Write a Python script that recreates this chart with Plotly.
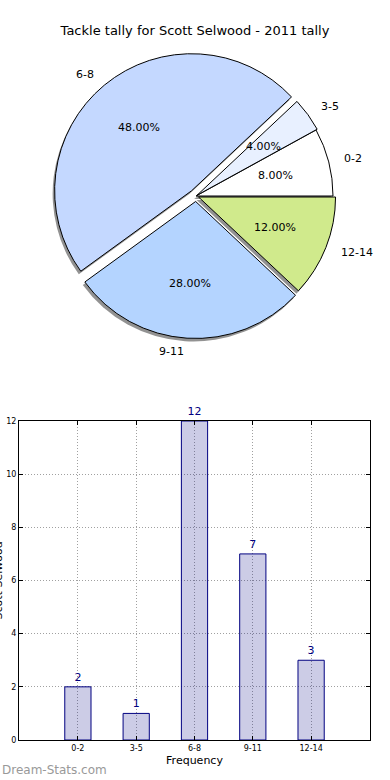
import math
import plotly.graph_objects as go

categories = ["0-2", "3-5", "6-8", "9-11", "12-14"]
counts = [2, 1, 12, 7, 3]
pie_colors = ["#ffffff", "#e8f0ff", "#c4d8ff", "#b4d4ff", "#d0ea8c"]
pulls = [0.0, 0.01, 0.05, 0.04, 0.02]
y_ticks = [0, 2, 4, 6, 8, 10, 12]

W, H = 390, 780
FONT = "DejaVu Sans"

def px_x(x):
    return x / W

def px_y(y):
    return 1 - y / H

total = sum(counts)
maxp = max(pulls)
cx, cy, r = 196, 196, 137
half = r * (1 + maxp)
dom_x = [px_x(cx - half), px_x(cx + half)]
dom_y = [px_y(cy + half), px_y(cy - half)]
sdx, sdy = -2, 3
shadow_x = [px_x(cx - half + sdx), px_x(cx + half + sdx)]
shadow_y = [px_y(cy + half + sdy), px_y(cy - half + sdy)]
# text overlay axes: larger box around the same centre, same px-per-unit scale
ext = 1.4
thalf = r * ext
tdom_x = [px_x(cx - thalf), px_x(cx + thalf)]
tdom_y = [px_y(cy + thalf), px_y(cy - thalf)]
# matplotlib-like start: first slice begins at 3 o'clock going counterclockwise
rotation = 90 - 360 * counts[0] / total

fig = go.Figure()

pie_common = dict(labels=categories, values=counts, sort=False,
                  direction="counterclockwise", rotation=rotation, pull=pulls,
                  showlegend=False)
# shadow
fig.add_trace(go.Pie(
    domain=dict(x=shadow_x, y=shadow_y),
    marker=dict(colors=["rgba(100,100,100,0.7)"] * 5, line=dict(width=0)),
    textinfo="none", hoverinfo="skip", **pie_common,
))
# main pie
fig.add_trace(go.Pie(
    domain=dict(x=dom_x, y=dom_y),
    marker=dict(colors=pie_colors, line=dict(color="#000000", width=1)),
    textinfo="none", **pie_common,
))

# percentage and category texts placed like matplotlib (0.6r and 1.1r)
annotations = []
cum = 0
for cat, v, p in zip(categories, counts, pulls):
    mid = math.radians((cum + v / 2) / total * 360)
    cum += v
    c, s = math.cos(mid), math.sin(mid)
    annotations.append(dict(
        x=(p + 0.6) * c, y=(p + 0.6) * s, xref="x2", yref="y2",
        text=f"{100 * v / total:.2f}%", showarrow=False,
        xanchor="center", yanchor="middle",
        font=dict(family=FONT, size=11, color="#000000")))
    annotations.append(dict(
        x=(p + 1.1) * c, y=(p + 1.1) * s, xref="x2", yref="y2",
        text=cat, showarrow=False,
        xanchor="left" if c > 0 else "right", yanchor="middle",
        font=dict(family=FONT, size=11, color="#000000")))

# y-axis title, mostly cut off at the left edge as in the reference
annotations.append(dict(text="Scott Selwood", x=px_x(-2), y=px_y(580.5),
                        xref="paper", yref="paper", textangle=-90,
                        xanchor="center", yanchor="middle", showarrow=False,
                        font=dict(family=FONT, size=11, color="#000000")))
annotations.append(dict(text="Dream-Stats.com", x=0, y=px_y(770), xref="paper", yref="paper",
                        xanchor="left", yanchor="middle", showarrow=False,
                        font=dict(family=FONT, size=12, color="#999999")))

x_idx = list(range(len(categories)))
fig.add_trace(go.Bar(
    x=x_idx, y=counts, width=0.45,
    marker=dict(color="rgba(0,0,128,0.2)", line=dict(color="#000080", width=1)),
    text=[str(c) for c in counts], textposition="outside",
    textfont=dict(family=FONT, size=11, color="#000080"),
    cliponaxis=False, showlegend=False,
))

axis_common = dict(
    showline=True, linecolor="#000000", linewidth=1, mirror="ticks",
    ticks="inside", ticklen=4, tickcolor="#000000",
    showgrid=True, gridcolor="#a0a0a0", griddash="1px,2px", gridwidth=1,
    zeroline=False, automargin=False,
    tickfont=dict(family=FONT, size=8, color="#000000"),
)

fig.update_layout(
    width=W, height=H, autosize=False,
    margin=dict(l=0, r=0, t=0, b=0),
    paper_bgcolor="#ffffff", plot_bgcolor="#ffffff",
    font=dict(family=FONT, color="#000000"),
    title=dict(text="Tackle tally for Scott Selwood - 2011 tally",
               x=0.5, xanchor="center", y=px_y(30), yanchor="middle",
               font=dict(family=FONT, size=13, color="#000000")),
    xaxis=dict(domain=[px_x(19), px_x(370)], range=[-1.01, 5.01],
               tickvals=x_idx, ticktext=categories,
               title=dict(text="Frequency", font=dict(family=FONT, size=11), standoff=4),
               **axis_common),
    yaxis=dict(domain=[px_y(740), px_y(421)], range=[0, 12],
               tickvals=y_ticks, **axis_common),
    xaxis2=dict(domain=tdom_x, range=[-ext, ext], visible=False, fixedrange=True),
    yaxis2=dict(domain=tdom_y, range=[-ext, ext], visible=False, fixedrange=True,
                anchor="x2"),
    annotations=annotations,
)

fig.write_html("out.html", post_script="document.body.style.margin='0px';",
               config={"displayModeBar": False})
